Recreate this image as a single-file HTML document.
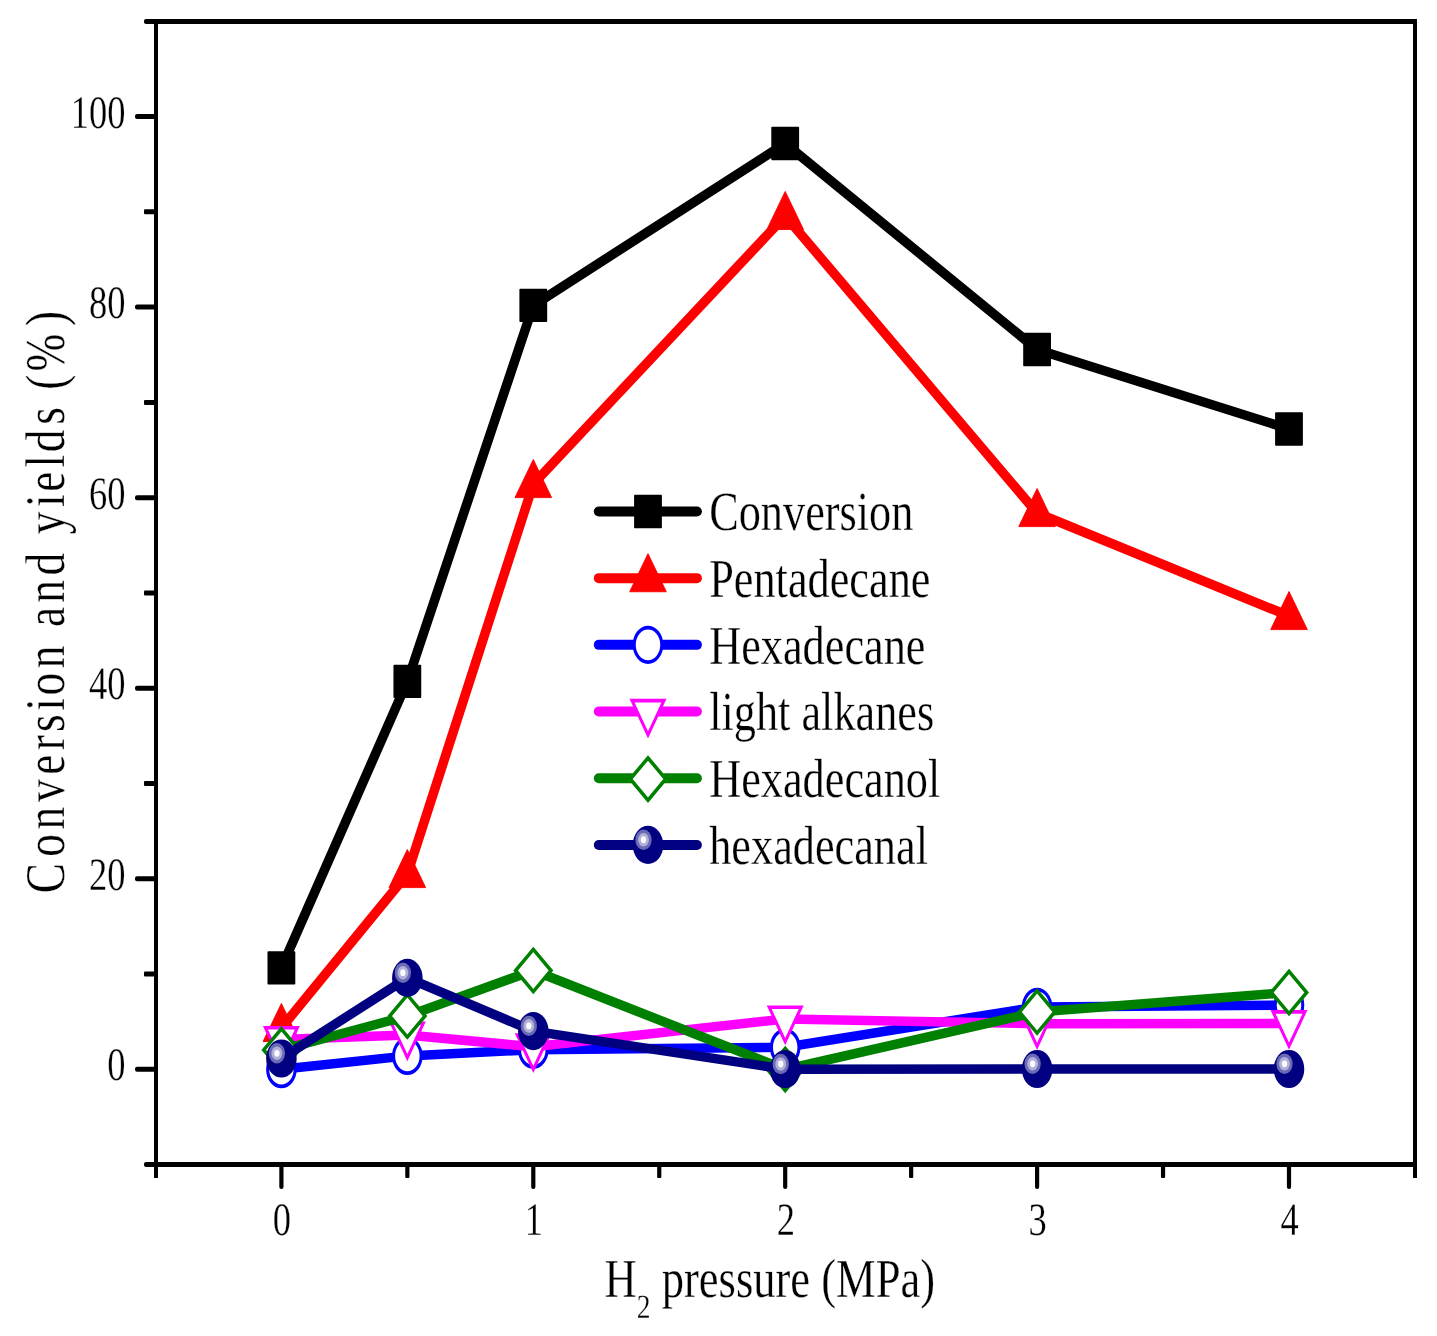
<!DOCTYPE html>
<html><head><meta charset="utf-8"><title>chart</title>
<style>html,body{margin:0;padding:0;background:#fff}svg{display:block;will-change:transform}text{font-family:"Liberation Serif",serif;fill:#000;text-rendering:geometricPrecision;stroke:#fff;stroke-width:0.3px}</style>
</head><body>
<svg width="1437" height="1336" viewBox="0 0 1437 1336">
<rect width="1437" height="1336" fill="#fff"/>
<g fill="#000">
<rect x="154" y="19" width="4" height="1159"/>
<rect x="1413" y="19" width="4" height="1159"/>
<rect x="144" y="19" width="1273" height="5" rx="2"/>
<rect x="144" y="1162" width="1273" height="5" rx="2"/>
<rect x="135" y="1066.7" width="21" height="5" rx="2"/>
<rect x="144" y="971.44" width="12" height="5" rx="1"/>
<rect x="135" y="876.18" width="21" height="5" rx="2"/>
<rect x="144" y="780.92" width="12" height="5" rx="1"/>
<rect x="135" y="685.66" width="21" height="5" rx="2"/>
<rect x="144" y="590.4" width="12" height="5" rx="1"/>
<rect x="135" y="495.14" width="21" height="5" rx="2"/>
<rect x="144" y="399.88" width="12" height="5" rx="1"/>
<rect x="135" y="304.62" width="21" height="5" rx="2"/>
<rect x="144" y="209.36" width="12" height="5" rx="1"/>
<rect x="135" y="114.1" width="21" height="5" rx="2"/>
<rect x="279.3" y="1164" width="4.2" height="25" rx="2"/>
<rect x="405.25" y="1164" width="4.2" height="14" rx="1"/>
<rect x="531.2" y="1164" width="4.2" height="25" rx="2"/>
<rect x="657.15" y="1164" width="4.2" height="14" rx="1"/>
<rect x="783.1" y="1164" width="4.2" height="25" rx="2"/>
<rect x="909.05" y="1164" width="4.2" height="14" rx="1"/>
<rect x="1035" y="1164" width="4.2" height="25" rx="2"/>
<rect x="1160.95" y="1164" width="4.2" height="14" rx="1"/>
<rect x="1286.9" y="1164" width="4.2" height="25" rx="2"/>
</g>
<text transform="translate(125.6 1080.4) scale(0.785 1)" font-size="46.5" text-anchor="end" >0</text>
<text transform="translate(125.6 889.88) scale(0.785 1)" font-size="46.5" text-anchor="end" >20</text>
<text transform="translate(125.6 699.36) scale(0.785 1)" font-size="46.5" text-anchor="end" >40</text>
<text transform="translate(125.6 508.84) scale(0.785 1)" font-size="46.5" text-anchor="end" >60</text>
<text transform="translate(125.6 318.32) scale(0.785 1)" font-size="46.5" text-anchor="end" >80</text>
<text transform="translate(125.6 127.8) scale(0.785 1)" font-size="46.5" text-anchor="end" >100</text>
<text transform="translate(282 1235.2) scale(0.785 1)" font-size="46.5" text-anchor="middle" >0</text>
<text transform="translate(533.9 1235.2) scale(0.785 1)" font-size="46.5" text-anchor="middle" >1</text>
<text transform="translate(785.8 1235.2) scale(0.785 1)" font-size="46.5" text-anchor="middle" >2</text>
<text transform="translate(1037.7 1235.2) scale(0.785 1)" font-size="46.5" text-anchor="middle" >3</text>
<text transform="translate(1289.6 1235.2) scale(0.785 1)" font-size="46.5" text-anchor="middle" >4</text>
<text transform="translate(604.6 1297.1) scale(0.81 1)" font-size="55" xml:space="preserve">H<tspan font-size="34" dy="20.8">2</tspan><tspan dy="-20.8"> pressure (MPa)</tspan></text>
<text transform="translate(64.3 893.3) rotate(-90) scale(0.81 1)" font-size="56" x="0 45.09 78.9 112.7 146.51 176.53 199.03 225.35 244.14 277.95 311.76 328.66 358.68 392.48 426.29 443.19 477 495.77 525.79 544.58 578.39 604.7 621.61 644.11 700.45" y="0" xml:space="preserve">Conversion and yields (%)</text>
<polyline points="281.4,967.9 407.35,681.4 533.3,305.4 785.2,143.5 1037.1,349.5 1289,429" fill="none" stroke="#000000" stroke-width="9.5" stroke-linejoin="round" stroke-linecap="butt"/>
<g transform="translate(281.4 967.9) scale(0.8 1)"><rect x="-17.38" y="-16.7" width="34.75" height="33.4" rx="1" fill="#000000"/></g>
<g transform="translate(407.35 681.4) scale(0.8 1)"><rect x="-17.38" y="-16.7" width="34.75" height="33.4" rx="1" fill="#000000"/></g>
<g transform="translate(533.3 305.4) scale(0.8 1)"><rect x="-17.38" y="-16.7" width="34.75" height="33.4" rx="1" fill="#000000"/></g>
<g transform="translate(785.2 143.5) scale(0.8 1)"><rect x="-17.38" y="-16.7" width="34.75" height="33.4" rx="1" fill="#000000"/></g>
<g transform="translate(1037.1 349.5) scale(0.8 1)"><rect x="-17.38" y="-16.7" width="34.75" height="33.4" rx="1" fill="#000000"/></g>
<g transform="translate(1289 429) scale(0.8 1)"><rect x="-17.38" y="-16.7" width="34.75" height="33.4" rx="1" fill="#000000"/></g>
<polyline points="281.4,1027.9 407.35,874 533.3,484 785.2,215.9 1037.1,513 1289,616" fill="none" stroke="#ff0000" stroke-width="9.5" stroke-linejoin="round" stroke-linecap="butt"/>
<g transform="translate(281.4 1027.9) scale(0.8 1)"><polygon points="0,-24.5 22.9,13.6 -22.9,13.6" fill="#ff0000" stroke="#ff0000" stroke-width="1" stroke-linejoin="round"/></g>
<g transform="translate(407.35 874) scale(0.8 1)"><polygon points="0,-24.5 22.9,13.6 -22.9,13.6" fill="#ff0000" stroke="#ff0000" stroke-width="1" stroke-linejoin="round"/></g>
<g transform="translate(533.3 484) scale(0.8 1)"><polygon points="0,-24.5 22.9,13.6 -22.9,13.6" fill="#ff0000" stroke="#ff0000" stroke-width="1" stroke-linejoin="round"/></g>
<g transform="translate(785.2 215.9) scale(0.8 1)"><polygon points="0,-24.5 22.9,13.6 -22.9,13.6" fill="#ff0000" stroke="#ff0000" stroke-width="1" stroke-linejoin="round"/></g>
<g transform="translate(1037.1 513) scale(0.8 1)"><polygon points="0,-24.5 22.9,13.6 -22.9,13.6" fill="#ff0000" stroke="#ff0000" stroke-width="1" stroke-linejoin="round"/></g>
<g transform="translate(1289 616) scale(0.8 1)"><polygon points="0,-24.5 22.9,13.6 -22.9,13.6" fill="#ff0000" stroke="#ff0000" stroke-width="1" stroke-linejoin="round"/></g>
<polyline points="281.4,1069.2 407.35,1055.9 533.3,1049.7 785.2,1047.3 1037.1,1006.9 1289,1005" fill="none" stroke="#0000ff" stroke-width="9.5" stroke-linejoin="round" stroke-linecap="butt"/>
<g transform="translate(281.4 1069.2) scale(0.8 1)"><circle r="17.2" fill="#fff" stroke="#0000ff" stroke-width="3.8"/></g>
<g transform="translate(407.35 1055.9) scale(0.8 1)"><circle r="17.2" fill="#fff" stroke="#0000ff" stroke-width="3.8"/></g>
<g transform="translate(533.3 1049.7) scale(0.8 1)"><circle r="17.2" fill="#fff" stroke="#0000ff" stroke-width="3.8"/></g>
<g transform="translate(785.2 1047.3) scale(0.8 1)"><circle r="17.2" fill="#fff" stroke="#0000ff" stroke-width="3.8"/></g>
<g transform="translate(1037.1 1006.9) scale(0.8 1)"><circle r="17.2" fill="#fff" stroke="#0000ff" stroke-width="3.8"/></g>
<g transform="translate(1289 1005) scale(0.8 1)"><circle r="17.2" fill="#fff" stroke="#0000ff" stroke-width="3.8"/></g>
<polyline points="281.4,1039.4 407.35,1035 533.3,1046.8 785.2,1019 1037.1,1023.7 1289,1023.6" fill="none" stroke="#ff00ff" stroke-width="9.5" stroke-linejoin="round" stroke-linecap="butt"/>
<g transform="translate(281.4 1039.4) scale(0.8 1)"><polygon points="-19.97,-11.7 19.97,-11.7 0,22.6" fill="#fff" stroke="#ff00ff" stroke-width="3.6" stroke-linejoin="miter" stroke-miterlimit="10"/></g>
<g transform="translate(407.35 1035) scale(0.8 1)"><polygon points="-19.97,-11.7 19.97,-11.7 0,22.6" fill="#fff" stroke="#ff00ff" stroke-width="3.6" stroke-linejoin="miter" stroke-miterlimit="10"/></g>
<g transform="translate(533.3 1046.8) scale(0.8 1)"><polygon points="-19.97,-11.7 19.97,-11.7 0,22.6" fill="#fff" stroke="#ff00ff" stroke-width="3.6" stroke-linejoin="miter" stroke-miterlimit="10"/></g>
<g transform="translate(785.2 1019) scale(0.8 1)"><polygon points="-19.97,-11.7 19.97,-11.7 0,22.6" fill="#fff" stroke="#ff00ff" stroke-width="3.6" stroke-linejoin="miter" stroke-miterlimit="10"/></g>
<g transform="translate(1037.1 1023.7) scale(0.8 1)"><polygon points="-19.97,-11.7 19.97,-11.7 0,22.6" fill="#fff" stroke="#ff00ff" stroke-width="3.6" stroke-linejoin="miter" stroke-miterlimit="10"/></g>
<g transform="translate(1289 1023.6) scale(0.8 1)"><polygon points="-19.97,-11.7 19.97,-11.7 0,22.6" fill="#fff" stroke="#ff00ff" stroke-width="3.6" stroke-linejoin="miter" stroke-miterlimit="10"/></g>
<polyline points="281.4,1049.9 407.35,1016 533.3,970.5 785.2,1069.5 1037.1,1012 1289,992.5" fill="none" stroke="#008000" stroke-width="9.5" stroke-linejoin="round" stroke-linecap="butt"/>
<g transform="translate(281.4 1049.9) scale(0.8 1)"><polygon points="0,-21.1 22.1,0 0,21.1 -22.1,0" fill="#fff" stroke="#008000" stroke-width="4.0" stroke-linejoin="miter" stroke-miterlimit="10"/></g>
<g transform="translate(407.35 1016) scale(0.8 1)"><polygon points="0,-21.1 22.1,0 0,21.1 -22.1,0" fill="#fff" stroke="#008000" stroke-width="4.0" stroke-linejoin="miter" stroke-miterlimit="10"/></g>
<g transform="translate(533.3 970.5) scale(0.8 1)"><polygon points="0,-21.1 22.1,0 0,21.1 -22.1,0" fill="#fff" stroke="#008000" stroke-width="4.0" stroke-linejoin="miter" stroke-miterlimit="10"/></g>
<g transform="translate(785.2 1069.5) scale(0.8 1)"><polygon points="0,-21.1 22.1,0 0,21.1 -22.1,0" fill="#fff" stroke="#008000" stroke-width="4.0" stroke-linejoin="miter" stroke-miterlimit="10"/></g>
<g transform="translate(1037.1 1012) scale(0.8 1)"><polygon points="0,-21.1 22.1,0 0,21.1 -22.1,0" fill="#fff" stroke="#008000" stroke-width="4.0" stroke-linejoin="miter" stroke-miterlimit="10"/></g>
<g transform="translate(1289 992.5) scale(0.8 1)"><polygon points="0,-21.1 22.1,0 0,21.1 -22.1,0" fill="#fff" stroke="#008000" stroke-width="4.0" stroke-linejoin="miter" stroke-miterlimit="10"/></g>
<polyline points="281.4,1058.5 407.35,977.9 533.3,1031.1 785.2,1069.2 1037.1,1069 1289,1069" fill="none" stroke="#000080" stroke-width="9.5" stroke-linejoin="round" stroke-linecap="butt"/>
<g transform="translate(281.4 1058.5) scale(0.8 1)"><circle r="19.1" fill="#000080"/><circle cx="-5.6" cy="-5.2" r="10.2" fill="#6a6ab5"/><circle cx="-5.6" cy="-5.2" r="6.8" fill="#b0b0d8"/><circle cx="-5.6" cy="-5.2" r="3.4" fill="#fafafc"/></g>
<g transform="translate(407.35 977.9) scale(0.8 1)"><circle r="19.1" fill="#000080"/><circle cx="-5.6" cy="-5.2" r="10.2" fill="#6a6ab5"/><circle cx="-5.6" cy="-5.2" r="6.8" fill="#b0b0d8"/><circle cx="-5.6" cy="-5.2" r="3.4" fill="#fafafc"/></g>
<g transform="translate(533.3 1031.1) scale(0.8 1)"><circle r="19.1" fill="#000080"/><circle cx="-5.6" cy="-5.2" r="10.2" fill="#6a6ab5"/><circle cx="-5.6" cy="-5.2" r="6.8" fill="#b0b0d8"/><circle cx="-5.6" cy="-5.2" r="3.4" fill="#fafafc"/></g>
<g transform="translate(785.2 1069.2) scale(0.8 1)"><circle r="19.1" fill="#000080"/><circle cx="-5.6" cy="-5.2" r="10.2" fill="#6a6ab5"/><circle cx="-5.6" cy="-5.2" r="6.8" fill="#b0b0d8"/><circle cx="-5.6" cy="-5.2" r="3.4" fill="#fafafc"/></g>
<g transform="translate(1037.1 1069) scale(0.8 1)"><circle r="19.1" fill="#000080"/><circle cx="-5.6" cy="-5.2" r="10.2" fill="#6a6ab5"/><circle cx="-5.6" cy="-5.2" r="6.8" fill="#b0b0d8"/><circle cx="-5.6" cy="-5.2" r="3.4" fill="#fafafc"/></g>
<g transform="translate(1289 1069) scale(0.8 1)"><circle r="19.1" fill="#000080"/><circle cx="-5.6" cy="-5.2" r="10.2" fill="#6a6ab5"/><circle cx="-5.6" cy="-5.2" r="6.8" fill="#b0b0d8"/><circle cx="-5.6" cy="-5.2" r="3.4" fill="#fafafc"/></g>
<line x1="598.8" y1="511.45" x2="696.9" y2="511.45" stroke="#000000" stroke-width="10" stroke-linecap="round"/>
<g transform="translate(648 511.45) scale(0.8 1)"><rect x="-17.38" y="-16.7" width="34.75" height="33.4" rx="1" fill="#000000"/></g>
<text transform="translate(709.2 530.25) scale(0.805 1)" font-size="55" text-anchor="start" >Conversion</text>
<line x1="598.8" y1="578.15" x2="696.9" y2="578.15" stroke="#ff0000" stroke-width="10" stroke-linecap="round"/>
<g transform="translate(648 578.15) scale(0.8 1)"><polygon points="0,-24.5 22.9,13.6 -22.9,13.6" fill="#ff0000" stroke="#ff0000" stroke-width="1" stroke-linejoin="round"/></g>
<text transform="translate(709.2 596.95) scale(0.805 1)" font-size="55" text-anchor="start" >Pentadecane</text>
<line x1="598.8" y1="644.85" x2="696.9" y2="644.85" stroke="#0000ff" stroke-width="10" stroke-linecap="round"/>
<g transform="translate(648 644.85) scale(0.8 1)"><circle r="17.2" fill="#fff" stroke="#0000ff" stroke-width="3.8"/></g>
<text transform="translate(709.2 663.65) scale(0.805 1)" font-size="55" text-anchor="start" >Hexadecane</text>
<line x1="598.8" y1="711.55" x2="696.9" y2="711.55" stroke="#ff00ff" stroke-width="10" stroke-linecap="round"/>
<g transform="translate(648 712.35) scale(0.8 1)"><polygon points="-19.97,-11.7 19.97,-11.7 0,22.6" fill="#fff" stroke="#ff00ff" stroke-width="3.6" stroke-linejoin="miter" stroke-miterlimit="10"/></g>
<text transform="translate(709.2 730.35) scale(0.805 1)" font-size="55" text-anchor="start" >light alkanes</text>
<line x1="598.8" y1="778.25" x2="696.9" y2="778.25" stroke="#008000" stroke-width="10" stroke-linecap="round"/>
<g transform="translate(648 779.05) scale(0.8 1)"><polygon points="0,-21.1 22.1,0 0,21.1 -22.1,0" fill="#fff" stroke="#008000" stroke-width="4.0" stroke-linejoin="miter" stroke-miterlimit="10"/></g>
<text transform="translate(709.2 797.05) scale(0.805 1)" font-size="55" text-anchor="start" >Hexadecanol</text>
<line x1="598.8" y1="844.95" x2="696.9" y2="844.95" stroke="#000080" stroke-width="10" stroke-linecap="round"/>
<g transform="translate(648 844.95) scale(0.8 1)"><circle r="19.1" fill="#000080"/><circle cx="-5.6" cy="-5.2" r="10.2" fill="#6a6ab5"/><circle cx="-5.6" cy="-5.2" r="6.8" fill="#b0b0d8"/><circle cx="-5.6" cy="-5.2" r="3.4" fill="#fafafc"/></g>
<text transform="translate(709.2 863.75) scale(0.805 1)" font-size="55" text-anchor="start" >hexadecanal</text>
</svg>
</body></html>
